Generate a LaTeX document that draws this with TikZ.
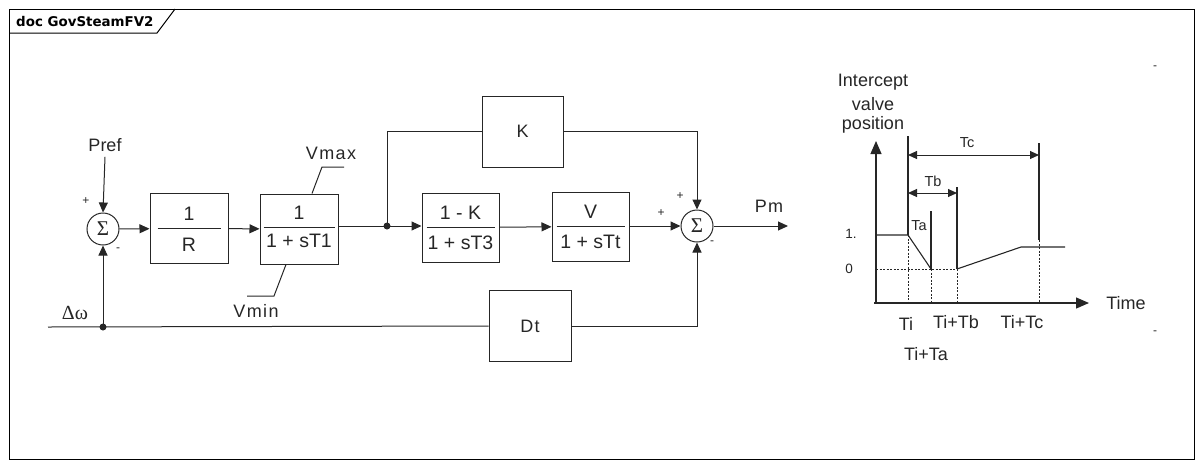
\documentclass[tikz,border=0pt]{standalone}
\usepackage{fontspec}
\setmainfont{Liberation Sans}
\newfontfamily\titlefont{DejaVu Sans}
\newfontfamily\greekfont{Liberation Serif}
\usetikzlibrary{arrows.meta,positioning}

\tikzset{
  blk/.style={draw, line width=1pt, minimum width=78pt, minimum height=70pt, inner sep=0pt, font=\fontsize{18}{20}\selectfont},
  sumnode/.style={draw, circle, line width=1pt, minimum size=32pt, inner sep=0pt, font=\greekfont\fontsize{21}{22}\selectfont},
  wire/.style={line width=1pt},
  sig/.style={line width=1pt, -{Triangle[length=10pt,width=9pt]}},
  dim/.style={line width=1pt, {Triangle[length=9pt,width=8pt]}-{Triangle[length=9pt,width=8pt]}},
  axis/.style={line width=1.2pt, -{Triangle[length=13pt,width=11pt]}},
  dots/.style={line width=0.9pt, dash pattern=on 2pt off 1.5pt},
  lbl/.style={inner sep=0pt, font=\fontsize{18}{20}\selectfont},
  frac/.style={inner sep=0pt, font=\fontsize{19.5}{21}\selectfont},
  wide/.style={inner sep=0pt, font=\fontsize{18}{20}\selectfont\addfontfeature{LetterSpace=8}},
  small/.style={inner sep=0pt, font=\fontsize{14.5}{16}\selectfont},
  sgn/.style={inner sep=0pt, font=\fontsize{12}{13}\selectfont},
}

\begin{document}
\begin{tikzpicture}[x=1pt, y=-1pt, black!85]
\useasboundingbox (0,0) rectangle (1203,467);

% frame and title tab
\draw[black, line width=1pt] (9,9) rectangle (1194,459);
\draw[black, line width=1pt] (9,33) -- (157,33) -- (175,9);
\path (16,21) node[anchor=west, inner sep=0pt, text=black, font=\titlefont\bfseries\fontsize{13.4}{15}\selectfont] {doc GovSteamFV2};

% summing junctions
\node[sumnode] (s1) at (103,229) {Σ};
\node[sumnode] (s2) at (697,226) {Σ};

% blocks
\node[blk] (R) at (189,228.5) {};
\node[blk] (T1) at (299,229) {};
\node[blk, minimum width=77pt, minimum height=69pt] (T3) at (460.5,227.5) {};
\node[blk, minimum width=77pt, minimum height=69pt] (Tt) at (590.5,226.5) {};
\node[blk, minimum width=81pt, minimum height=71pt] (K) at (522.5,131.5) {K};
\node[blk, minimum width=82pt, minimum height=71pt] (Dt) at (530,326) {\addfontfeature{LetterSpace=8}Dt};

% fractions inside the blocks
\draw[wire] ([xshift=8pt]R.west) -- ([xshift=-8pt]R.east);
\path (R.center) ++(0,-15) node[frac] {1} ++(0,31) node[frac] {R};
\draw[wire] ([xshift=4pt,yshift=2pt]T1.west) -- ([xshift=-4pt,yshift=2pt]T1.east);
\path (T1.center) ++(0,-16) node[frac] {1} ++(0,28) node[frac] {1 + sT1};
\draw[wire] ([xshift=5pt]T3.west) -- ([xshift=-5pt]T3.east);
\path (T3.center) ++(0,-15) node[frac] {1 - K} ++(0,30) node[frac] {1 + sT3};
\draw[wire] ([xshift=5pt]Tt.west) -- ([xshift=-5pt]Tt.east);
\path (Tt.center) ++(0,-15) node[frac] {V} ++(0,30) node[frac] {1 + sTt};

% limits on the lag
\draw[wire] ([xshift=13pt]T1.north) -- (322,167) -- (344,167);
\draw[wire] ([xshift=-13pt]T1.south) -- (274,296) -- (247,296);
\path (331,153) node[wide] {Vmax};
\path (256,311) node[wide] {Vmin};

% inputs
\node[lbl] (pref) at (105,145) {Pref};
\coordinate (win) at (48,327);
\coordinate (jw) at (103,327);
\coordinate (jk) at (387,226);
\coordinate (pm) at (788,226);
\node[inner sep=0pt, font=\greekfont\fontsize{20}{22}\selectfont] at (75,313) {Δω};

% connections
\draw[sig] ([yshift=-5pt]pref.south) -- (s1.north);
\draw[wire] (win) -- (Dt.west);
\fill (jw) circle (3.5pt);
\draw[sig] (jw) -- (s1.south);
\draw[sig] (s1) -- (R);
\draw[sig] (R) -- (T1);
\draw[wire] (T1.east |- jk) -- (jk);
\fill (jk) circle (3.5pt);
\draw[sig] (jk) -- (T3.west |- jk);
\draw[wire] (jk) |- (K.west);
\draw[sig] (T3) -- (Tt);
\draw[sig] (Tt.east |- s2) -- (s2.west);
\draw[sig] (K.east) -| (s2.north);
\draw[sig] (Dt.east) -| (s2.south);
\draw[sig] (s2) -- (pm);
\path (769,206) node[wide] {Pm};

% signs
\path (86,201) node[sgn] {+};
\path (118,250) node[sgn] {-};
\path (680,196) node[sgn] {+};
\path (661,213) node[sgn] {+};
\path (712,243) node[sgn] {-};

% intercept valve position plot
\draw[axis] (876,303) -- (876,141);
\draw[axis] (874,303) -- (1089,303);
\path (873,82) node[lbl] {Intercept};
\path (873,104) node[lbl] {valve};
\path (873,125) node[lbl] {position};
\path (1126,303) node[lbl] {Time};
\path (851,234) node[sgn, font=\fontsize{13.5}{14}\selectfont] {1.};
\path (849,269) node[sgn, font=\fontsize{13.5}{14}\selectfont] {0};

\draw[line width=1.1pt] (908,136) -- (908,235);
\draw[line width=1.1pt] (931,211) -- (931,269);
\draw[line width=1.1pt] (957,187) -- (957,269);
\draw[line width=1.1pt] (1039,143) -- (1039,240);
\draw[dots] (908,235) -- (908,303);
\draw[dots] (931,269) -- (931,303);
\draw[dots] (957,269) -- (957,303);
\draw[dots] (1039,240) -- (1039,303);
\draw[dots] (876,269) -- (957,269);

\draw[line width=1.1pt] (876,235) -- (908,235) -- (931,269);
\draw[line width=1.1pt] (957,269) -- (1021,247) -- (1065,247);

\draw[dim] (908,155) -- (1039,155);
\draw[dim] (908,193) -- (957,193);
\path (967,143) node[small] {Tc};
\path (933,181) node[small] {Tb};
\path (919,226) node[small] {Ta};

\path (906,324) node[lbl] {Ti};
\path (956,322) node[lbl] {Ti+Tb};
\path (1022,322) node[lbl] {Ti+Tc};
\path (926,354) node[lbl] {Ti+Ta};

% stray marks
\path (1155,68) node[sgn] {-};
\path (1155,333) node[sgn] {-};
\end{tikzpicture}
\end{document}
